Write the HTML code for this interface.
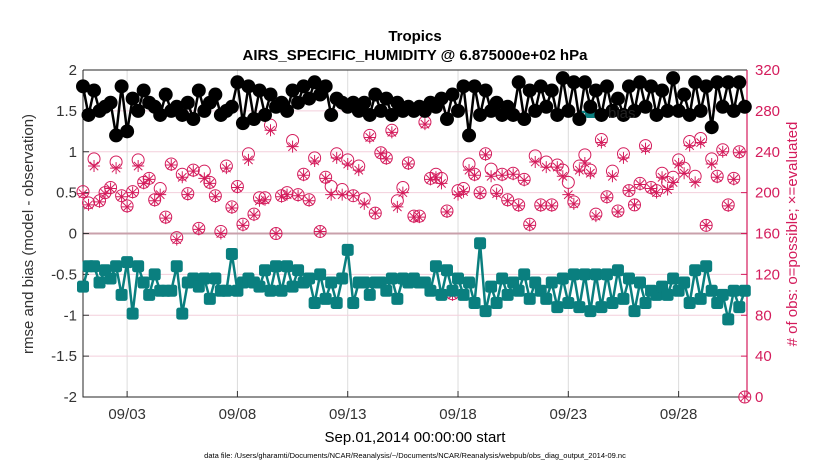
<!DOCTYPE html>
<html><head><meta charset="utf-8"><style>
html,body{margin:0;padding:0;background:#fff;}
svg{display:block;font-family:"Liberation Sans",sans-serif;}
</style></head><body>
<svg id="chart" width="830" height="470" viewBox="0 0 830 470">
<text x="415" y="41" text-anchor="middle" font-size="15" font-weight="bold">Tropics</text>
<text x="415" y="60" text-anchor="middle" font-size="15" font-weight="bold">AIRS_SPECIFIC_HUMIDITY @ 6.875000e+02 hPa</text>
<text x="415" y="442" text-anchor="middle" font-size="15">Sep.01,2014 00:00:00 start</text>
<text x="415" y="458" text-anchor="middle" font-size="7.5">data file: /Users/gharamti/Documents/NCAR/Reanalysis/~/Documents/NCAR/Reanalysis/webpub/obs_diag_output_2014-09.nc</text>
<text transform="translate(33,234) rotate(-90)" text-anchor="middle" font-size="15" fill="#333">rmse and bias (model - observation)</text>
<text transform="translate(797,234) rotate(-90)" text-anchor="middle" font-size="15" fill="#d41c5c"># of obs: o=possible; ×=evaluated</text>
<g id="grid"></g><g id="axes"></g><g id="series"></g>
</svg>
<script>
const days=[];for(let i=0;i<=120;i++)days.push(i*0.25);
const rmse=[1.8,1.45,1.75,1.5,1.55,1.6,1.2,1.8,1.25,1.65,1.5,1.75,1.6,1.55,1.45,1.7,1.5,1.55,1.45,1.6,1.4,1.75,1.5,1.6,1.7,1.45,1.5,1.55,1.85,1.35,1.8,
1.4,1.75,1.45,1.7,1.55,1.6,1.5,1.75,1.6,1.8,1.65,1.85,1.7,1.8,1.45,1.65,1.6,1.55,1.6,1.5,1.6,1.45,1.7,1.5,1.65,1.45,1.6,1.5,1.55,1.5,
1.55,1.5,1.6,1.55,1.65,1.4,1.7,1.5,1.8,1.2,1.8,1.45,1.75,1.5,1.6,1.45,1.55,1.45,1.85,1.4,1.75,1.5,1.8,1.55,1.75,1.45,1.9,1.5,1.85,1.4,
1.85,1.55,1.75,1.45,1.8,1.5,1.65,1.45,1.8,1.5,1.85,1.55,1.8,1.45,1.75,1.5,1.9,1.5,1.7,1.45,1.85,1.5,1.8,1.3,1.85,1.55,1.85,1.5,1.85,1.55];
const bias=[-0.65,-0.4,-0.4,-0.6,-0.45,-0.55,-0.4,-0.75,-0.35,-0.98,-0.4,-0.6,-0.75,-0.5,-0.7,-0.7,-0.7,-0.4,-0.98,-0.6,-0.55,-0.65,-0.55,-0.8,-0.55,-0.7,-0.7,-0.25,-0.7,-0.6,-0.55,
-0.6,-0.65,-0.45,-0.7,-0.4,-0.7,-0.4,-0.65,-0.45,-0.6,-0.55,-0.85,-0.5,-0.8,-0.6,-0.85,-0.55,-0.2,-0.85,-0.6,-0.6,-0.75,-0.6,-0.6,-0.7,-0.55,-0.8,-0.55,-0.6,-0.55,
-0.6,-0.6,-0.7,-0.4,-0.75,-0.45,-0.7,-0.55,-0.75,-0.6,-0.85,-0.12,-0.95,-0.65,-0.85,-0.55,-0.75,-0.6,-0.7,-0.5,-0.8,-0.6,-0.7,-0.8,-0.6,-0.9,-0.55,-0.85,-0.5,-0.9,
-0.5,-0.95,-0.5,-0.9,-0.5,-0.85,-0.45,-0.8,-0.55,-0.95,-0.6,-0.85,-0.7,-0.75,-0.65,-0.75,-0.55,-0.7,-0.6,-0.85,-0.45,-0.8,-0.4,-0.7,-0.85,-0.75,-1.05,-0.7,-0.9,-0.7];
const possible=[201,190,233,192,200,205,230,197,187,201,232,210,214,193,204,176,228,156,218,199,222,165,221,210,197,162,226,186,206,169,238,
179,195,195,266,160,197,200,251,198,218,193,234,162,215,206,238,203,232,197,226,194,256,180,239,234,261,192,205,229,177,
177,269,214,218,214,182,101,202,204,228,218,200,238,223,202,218,193,219,188,213,169,236,188,230,188,227,222,210,191,226,
237,222,179,252,196,221,182,238,202,188,209,246,205,202,219,210,215,232,224,250,216,253,168,233,216,242,188,214,240,0];
const evaluated=[199,188,226,191,199,204,224,196,186,200,226,209,213,192,198,175,227,154,215,198,221,164,214,209,196,160,224,185,205,168,232,
178,192,193,261,160,196,198,245,197,217,192,231,162,214,198,234,198,228,197,222,189,254,180,238,233,259,186,200,228,176,
176,267,213,215,209,181,100,198,201,222,217,199,237,216,199,217,192,218,187,212,168,230,187,225,187,225,216,198,189,222,
229,219,177,249,195,216,181,234,202,188,208,243,204,200,215,203,210,228,219,246,210,249,168,228,215,240,187,213,239,0];
const xTicks=[2,7,12,17,22,27];
const xTickLabels=["09/03","09/08","09/13","09/18","09/23","09/28"];
const yTicks=[2,1.5,1,0.5,0,-0.5,-1,-1.5,-2];
const y2Ticks=[320,280,240,200,160,120,80,40,0];

const L=83,R=747,T=70,B=397,XMAX=30.1;
const X=d=>L+d/XMAX*(R-L);
const Y=v=>T+(2-v)/4*(B-T);
const Y2=c=>T+(320-c)/320*(B-T);
const NS="http://www.w3.org/2000/svg";
function mk(tag,attrs,parent){const e=document.createElementNS(NS,tag);for(const k in attrs)e.setAttribute(k,attrs[k]);parent.appendChild(e);return e;}
const grid=document.getElementById('grid'),axes=document.getElementById('axes'),ser=document.getElementById('series');
const PINK="#d41c5c";
xTicks.forEach((d,i)=>{
  const g=mk('line',{x1:X(d),x2:X(d),y1:T,y2:B,stroke:'#dcdcdc','stroke-width':1},grid);
  
  const t=mk('line',{x1:X(d),x2:X(d),y1:B,y2:B-6,stroke:'#333'},axes);
  
  const l=mk('text',{x:X(d),y:B+22,'text-anchor':'middle','font-size':15,fill:'#333'},axes);l.textContent=xTickLabels[i];
  
});
yTicks.forEach(v=>{
  const g=mk('line',{x1:L,x2:R,y1:Y(v),y2:Y(v),stroke:v===0?'#c9a0ab':'#f3cfdc','stroke-width':v===0?2:1},grid);
  
  const l=mk('text',{x:L-6,y:Y(v)+5,'text-anchor':'end','font-size':15,fill:'#333'},axes);l.textContent=String(v);
  
  const t=mk('line',{x1:L,x2:L+6,y1:Y(v),y2:Y(v),stroke:'#333'},axes);
  
});
y2Ticks.forEach(c=>{
  const l=mk('text',{x:R+8,y:Y2(c)+5,'text-anchor':'start','font-size':15,fill:PINK},axes);l.textContent=String(c);
  
  const t=mk('line',{x1:R,x2:R-6,y1:Y2(c),y2:Y2(c),stroke:PINK},axes);
  
});
let f=mk('path',{d:`M${L},${T}H${R}M${L},${T}V${B}H${R}`,fill:'none',stroke:'#262626','stroke-width':1},axes);

f=mk('line',{x1:R,x2:R,y1:T,y2:B,stroke:PINK,'stroke-width':1.2},axes);


possible.forEach((c,i)=>{
  const e=mk('circle',{cx:X(days[i]),cy:Y2(c),r:6,fill:'none',stroke:PINK,'stroke-width':1},ser);
  
});
evaluated.forEach((c,i)=>{
  const x=X(days[i]),y=Y2(c),s=6,d=4.2;
  const e=mk('path',{d:`M${x-s},${y}H${x+s}M${x},${y-s}V${y+s}M${x-d},${y-d}L${x+d},${y+d}M${x-d},${y+d}L${x+d},${y-d}`,stroke:PINK,'stroke-width':1,fill:'none'},ser);
  
});
const TEAL="#0a7f7f";
let p=mk('polyline',{points:bias.map((v,i)=>X(days[i])+','+Y(v)).join(' '),fill:'none',stroke:TEAL,'stroke-width':2.5},ser);

bias.forEach((v,i)=>{
  const e=mk('rect',{x:X(days[i])-6,y:Y(v)-6,width:12,height:12,rx:2.5,fill:TEAL},ser);
  
});
const lg=mk('g',{},ser);
let le=mk('line',{x1:578,x2:604,y1:112,y2:112,stroke:TEAL,'stroke-width':2.5},lg);

le=mk('rect',{x:585,y:106,width:12,height:12,rx:2.5,fill:TEAL},lg);

p=mk('polyline',{points:rmse.map((v,i)=>X(days[i])+','+Y(v)).join(' '),fill:'none',stroke:'#000','stroke-width':2.5},ser);

rmse.forEach((v,i)=>{
  const e=mk('circle',{cx:X(days[i]),cy:Y(v),r:7,fill:'#000'},ser);
  
});
le=mk('text',{x:608,y:118,'font-size':15,fill:'#222'},ser);le.textContent='bias';

</script>
</body></html>
